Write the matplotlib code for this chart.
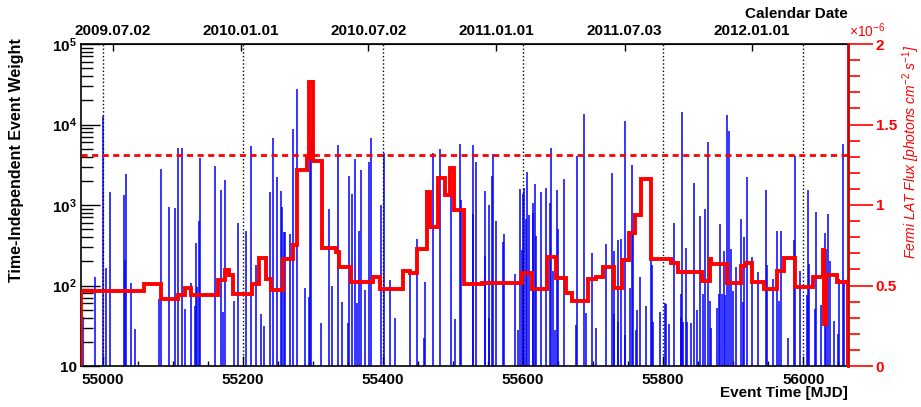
import matplotlib

matplotlib.use("Agg")
import matplotlib.pyplot as plt
from matplotlib.ticker import FixedLocator, MultipleLocator, NullLocator, LogLocator, NullFormatter

plt.rcParams["font.family"] = ["Liberation Sans", "DejaVu Sans"]
plt.rcParams["mathtext.fontset"] = "custom"
plt.rcParams["mathtext.rm"] = "Liberation Sans"
plt.rcParams["mathtext.it"] = "Liberation Sans:italic"
plt.rcParams["mathtext.bf"] = "Liberation Sans:bold"

# event arrival times (MJD) and time-independent weights
event_mjd = [
    54971.9, 54989.0, 54999.5, 55003.8, 55010.0, 55030.0, 55031.4, 55032.8, 55039.5, 55046.0,
    55079.4, 55083.2, 55093.7, 55102.3, 55107.0, 55112.8, 55116.6, 55125.1, 55131.8, 55133.2,
    55134.7, 55137.5, 55139.0,
    55160.5, 55168.1, 55171.9, 55174.8, 55187.1, 55192.8, 55203.8, 55210.9, 55218.1, 55226.2,
    55230.0, 55238.5, 55242.3, 55248.1, 55253.8, 55256.1, 55258.0, 55260.4, 55266.6, 55271.4,
    55277.1, 55289.0, 55294.2, 55296.1, 55297.6, 55310.9, 55322.3, 55326.6, 55335.8,
    55341.5, 55350.0, 55351.9, 55356.2, 55360.0, 55363.4, 55365.3, 55369.1, 55374.8, 55380.0,
    55383.4, 55397.6, 55401.4, 55410.5, 55417.2, 55439.1, 55448.6, 55458.1, 55460.0, 55471.4,
    55481.9, 55497.1, 55503.3, 55510.0, 55511.4,
    55528.1, 55529.0, 55532.8, 55545.2, 55546.2, 55550.9, 55551.9, 55555.2, 55556.6, 55560.9,
    55570.9, 55572.3, 55588.1, 55593.3, 55595.2, 55598.1, 55599.5, 55601.9, 55603.8, 55605.7,
    55608.5, 55613.8, 55614.7, 55616.6, 55618.5, 55625.7, 55632.8, 55639.0, 55640.0, 55642.3,
    55646.1, 55648.5, 55650.4, 55658.0, 55676.1, 55677.5, 55687.5, 55689.9, 55698.5,
    55704.8, 55718.1, 55727.2, 55729.1, 55730.5, 55735.3, 55736.2, 55740.0, 55745.3, 55746.2,
    55752.9, 55755.7, 55757.6, 55761.9, 55763.3, 55767.1, 55774.8, 55782.4, 55784.3, 55786.2,
    55795.2, 55802.4, 55804.3, 55808.6, 55816.2, 55825.2, 55826.2, 55827.6, 55829.0, 55832.8,
    55834.7, 55839.5, 55843.8, 55848.1, 55852.4, 55857.6, 55860.4, 55863.8, 55866.2, 55868.5,
    55876.2, 55880.0, 55881.4,
    55883.8, 55887.1, 55888.5, 55891.9, 55894.3, 55896.2, 55899.5, 55904.2, 55910.9, 55913.8,
    55915.7, 55920.0, 55927.1, 55936.1, 55947.1, 55948.5, 55956.6, 55962.8, 55966.1, 55968.0,
    55978.5, 55986.6, 55988.5, 55995.7, 56005.2, 56007.1, 56009.0, 56016.2, 56018.1, 56025.7,
    56031.4, 56032.8, 56035.6, 56037.6, 56043.3, 56049.4, 56051.8, 56056.6, 56058.5,
]
event_weight = [
    41, 129, 12600, 166, 1450, 1320, 209, 2450, 107, 29,
    68, 2820, 955, 912, 5130, 5130, 51, 107, 55, 339,
    95, 631, 3890,
    3020, 1550, 47, 2040, 65, 603, 479, 5370, 178, 44,
    31, 1450, 6760, 2240, 1480, 933, 457, 457, 437, 8910,
    27500, 93, 72, 13500, 6170, 34, 891, 100, 5620,
    62, 34, 2290, 1380, 3720, 60, 479, 2690, 87, 3390,
    6760, 1000, 4470, 117, 40, 162, 380, 22, 112, 4370,
    5010, 1410, 38, 5750, 1170,
    5500, 776, 3470, 1480, 234, 1000, 39, 2290, 4270, 631,
    347, 437, 138, 28, 1580, 275, 1380, 1620, 676, 2570,
    741, 1070, 794, 1820, 407, 1450, 1620, 1050, 5130, 151,
    28, 1550, 501, 2090, 32, 4070, 13500, 45, 257,
    30, 324, 2510, 269, 44, 363, 35, 380, 24, 11200,
    93, 3160, 447, 28, 49, 126, 55, 209, 182, 35,
    47, 60, 59, 33, 603, 41, 78, 14500, 35, 295,
    35, 34, 1860, 49, 724, 79, 891, 6030, 65, 30,
    52, 78, 589,
    78, 269, 76, 13200, 8320, 288, 85, 170, 661, 62,
    398, 2240, 229, 148, 1550, 178, 120, 479, 65, 479,
    22, 372, 4070, 151, 76, 1550, 186, 51, 813, 58,
    447, 288, 776, 204, 36, 25, 120, 5750, 117,
]

# Fermi-LAT light curve: bin edges (MJD) and flux in units of 1e-6 ph cm^-2 s^-1
flux_edges = [
    54968.6, 55058.5, 55082.8, 55107.5, 55117.0, 55125.1, 55164.3, 55173.8, 55180.5, 55185.2,
    55212.4, 55222.4, 55232.8, 55240.4, 55257.1, 55271.9, 55277.1, 55291.4, 55294.2, 55300.4,
    55313.3, 55332.3, 55337.7, 55353.8, 55385.3, 55396.2, 55428.1, 55438.6, 55448.1, 55462.4,
    55467.6, 55478.6, 55489.0, 55495.2, 55500.9, 55515.7, 55541.9, 55599.0, 55613.3, 55634.2,
    55647.6, 55660.9, 55670.4, 55692.8, 55703.4, 55714.8, 55730.0, 55741.4, 55751.4, 55759.5,
    55769.0, 55783.3, 55811.4, 55821.4, 55855.7, 55866.2, 55869.0, 55891.9, 55910.9, 55917.6,
    55926.6, 55944.2, 55962.3, 55973.3, 55988.5, 56013.7, 56028.0, 56030.0, 56032.0, 56048.0,
    56064.0,
]
flux_e6 = [
    0.466, 0.507, 0.416, 0.441, 0.482, 0.441, 0.534, 0.596, 0.565, 0.447,
    0.509, 0.669, 0.540, 0.472, 0.663, 0.752, 1.217, 1.294, 1.766, 1.275,
    0.731, 0.710, 0.613, 0.520, 0.551, 0.480, 0.592, 0.575, 0.727, 1.083,
    0.865, 1.166, 1.062, 1.232, 0.969, 0.507, 0.517, 0.576, 0.476, 0.675,
    0.545, 0.455, 0.406, 0.540, 0.555, 0.617, 0.482, 0.658, 0.828, 0.938,
    1.161, 0.665, 0.638, 0.586, 0.530, 0.665, 0.634, 0.514, 0.623, 0.641,
    0.520, 0.476, 0.590, 0.669, 0.493, 0.555, 0.720, 0.260, 0.565, 0.520,
]
flux_threshold_e6 = 1.31

date_mjd = [55014, 55197, 55379, 55562, 55745, 55927]
date_labels = ["2009.07.02", "2010.01.01", "2010.07.02", "2011.01.01", "2011.07.03", "2012.01.01"]
marker_mjd = [55000, 55200, 55400, 55600, 55800, 56000]

W, H = 921, 407
fig = plt.figure(figsize=(W / 100, H / 100), dpi=100)
ax = fig.add_axes([81 / W, 41 / H, 767 / W, 322 / H])

ax.vlines(event_mjd, 10, event_weight, color="#0000ff", linewidth=1.1, zorder=2)
for m in marker_mjd:
    ax.axvline(m, color="black", linestyle=":", linewidth=1.0, zorder=3)

ax.set_yscale("log")
ax.set_ylim(10, 1e5)
ax.set_xlim(54968.6, 56064.0)
ax.yaxis.set_major_locator(FixedLocator([10, 1e2, 1e3, 1e4, 1e5]))
ax.yaxis.set_minor_locator(LogLocator(base=10, subs=range(2, 10)))
ax.yaxis.set_minor_formatter(NullFormatter())
ax.set_yticklabels(["10", r"$\mathbf{10^{2}}$", r"$\mathbf{10^{3}}$", r"$\mathbf{10^{4}}$", r"$\mathbf{10^{5}}$"])
ax.xaxis.set_major_locator(MultipleLocator(200))
ax.xaxis.set_minor_locator(MultipleLocator(50))
ax.tick_params(axis="y", which="major", direction="in", length=14, width=1.0, labelsize=11, pad=3)
ax.tick_params(axis="y", which="minor", direction="in", length=8.5, width=1.0)
ax.tick_params(axis="x", which="major", direction="in", length=7, width=1.0, labelsize=11, pad=5)
ax.tick_params(axis="x", which="minor", direction="in", length=3.5, width=1.0)
for lab in ax.get_xticklabels() + ax.get_yticklabels():
    lab.set_fontweight("bold")
for side in ["left", "bottom", "top"]:
    ax.spines[side].set_linewidth(1.2)
ax.spines["right"].set_visible(False)

top = ax.secondary_xaxis("top")
top.set_xticks(date_mjd, labels=date_labels)
top.xaxis.set_minor_locator(NullLocator())
top.tick_params(axis="x", direction="in", length=5, width=1.0, labelsize=11, pad=4)
for lab in top.get_xticklabels():
    lab.set_fontweight("bold")

ax2 = ax.twinx()
ax2.set_ylim(0, 2)
ax2.stairs(flux_e6, flux_edges, baseline=0, color="#ff0000", linewidth=2.8, zorder=4)
ax2.axhline(flux_threshold_e6, color="#ff0000", linestyle="--", linewidth=2.0, dashes=(2.2, 1.6))
ax2.yaxis.set_major_locator(FixedLocator([0, 0.5, 1, 1.5, 2]))
ax2.set_yticklabels(["0", "0.5", "1", "1.5", "2"])
ax2.yaxis.set_minor_locator(MultipleLocator(0.1))
ax2.tick_params(axis="y", which="major", direction="out", length=18, width=1.2, colors="#ff0000",
                labelsize=11, pad=2)
ax2.tick_params(axis="y", which="minor", direction="out", length=8.5, width=1.2, colors="#ff0000")
for lab in ax2.get_yticklabels():
    lab.set_fontweight("bold")
for side in ["left", "bottom", "top"]:
    ax2.spines[side].set_visible(False)
ax2.spines["right"].set_color("#cc0000")
ax2.spines["right"].set_linewidth(2.0)

fig.text(849 / W, 1 - 31 / H, r"$\times$10$^{-6}$", color="#ff0000", fontsize=10, ha="left", va="center")
fig.text(911 / W, 1 - 45 / H, r"Fermi LAT Flux [photons cm$^{-2}$ s$^{-1}$]", color="#ff0000",
         fontsize=10, style="italic", rotation=90, ha="center", va="top")
fig.text(17 / W, 1 - 38 / H, "Time-Independent Event Weight", fontsize=11.5, fontweight="bold",
         rotation=90, ha="center", va="top")
fig.text(848 / W, 1 - 393 / H, "Event Time [MJD]", fontsize=11, fontweight="bold", ha="right", va="center")
fig.text(848 / W, 1 - 14 / H, "Calendar Date", fontsize=11, fontweight="bold", ha="right", va="center")

fig.savefig("out.png", dpi=100)
